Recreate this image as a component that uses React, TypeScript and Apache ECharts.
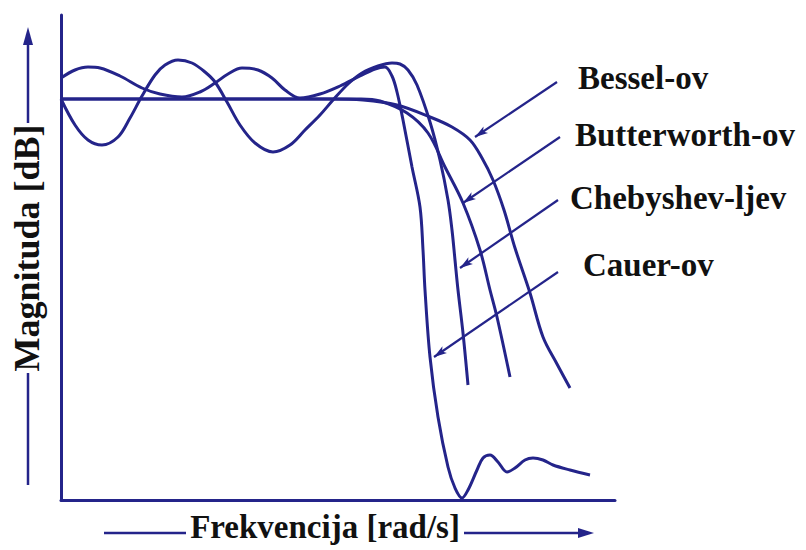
import React, { useEffect, useRef } from "react";
import * as echarts from "echarts";

// Schematic filter responses (x: frequency units 0..554, y: magnitude units 0..485)
const BESSEL: [number, number][] = [
  [0, 401], [269, 401], [302, 400], [336, 395], [369, 383], [391, 373], [409, 360],
  [421, 342], [432, 320], [443, 290], [454, 252], [469, 207], [482, 163], [496, 136],
  [509, 112],
];
const BUTTERWORTH: [number, number][] = [
  [0, 401], [300, 401], [319, 399], [346, 387], [367, 367], [384, 333], [402, 297],
  [419, 250], [429, 210], [436, 183], [449, 123],
];
const CHEBYSHEV: [number, number][] = [
  [0, 401], [14, 375], [27, 360], [41, 355], [57, 363], [69, 382], [81, 404], [94, 425],
  [104, 435], [117, 440], [131, 437], [144, 428], [154, 418], [166, 398], [179, 375],
  [194, 357], [212, 348], [229, 355], [244, 370], [259, 385], [272, 400], [287, 416],
  [301, 427], [317, 434], [331, 437], [339, 436], [347, 430], [356, 415], [369, 378],
  [379, 340], [387, 300], [391, 270], [394, 240], [397, 210], [402, 167], [407, 115],
];
const CAUER: [number, number][] = [
  [0, 422], [14, 430], [27, 433], [39, 432], [59, 424], [81, 412], [99, 406], [121, 403],
  [139, 408], [154, 417], [167, 426], [181, 432], [197, 430], [211, 422], [224, 410],
  [239, 402], [259, 406], [279, 414], [299, 424], [314, 431], [324, 433], [331, 424],
  [336, 408], [342, 380], [351, 333], [359, 293], [362, 250], [364, 210], [369, 143],
  [377, 83], [387, 33], [394, 12], [401, 2], [407, 10], [416, 30], [422, 42], [429, 45],
  [437, 38], [446, 28], [454, 32], [464, 40], [472, 42], [482, 40], [492, 35], [509, 30],
  [529, 25],
];

const NAMES = ["Bessel-ov", "Butterworth-ov", "Chebyshev-ljev", "Cauer-ov"];
// leader arrows: [start, end] for each name
const ARROWS: [number, number][][] = [
  [[496, 418], [414, 363]],
  [[499, 363], [402, 297]],
  [[497, 300], [399, 232]],
  [[497, 228], [373, 143]],
];
const LABEL_POS: [number, number][] = [[578, 78], [575, 135], [570, 198], [583, 265]];

const X_MAX = 554;
const Y_MAX = 485;
const X_TITLE = "Frekvencija [rad/s]";
const Y_TITLE = "Magnituda [dB]";

const INK = "#24248a";
const FONT = "'Liberation Serif', 'Times New Roman', serif";

export default function App() {
  const ref = useRef<HTMLDivElement>(null);
  useEffect(() => {
    const chart = echarts.init(ref.current!, null, { renderer: "svg" });
    const curves = [BESSEL, BUTTERWORTH, CHEBYSHEV, CAUER];
    const series: any[] = curves.map((d, i) => ({
      type: "line",
      name: NAMES[i],
      data: d,
      showSymbol: false,
      smooth: 0.35,
      lineStyle: { color: INK, width: 3 },
      itemStyle: { color: INK },
      z: 3,
    }));
    series.push({
      type: "line",
      data: [],
      markLine: {
        silent: true,
        symbol: ["none", "arrow"],
        symbolSize: [6, 13],
        label: { show: false },
        lineStyle: { color: INK, width: 2.2, type: "solid" },
        data: ARROWS.map((a) => [{ coord: a[0] }, { coord: a[1] }]),
      },
    });

    const graphic: any[] = [
      // y-axis title arrows
      { type: "line", shape: { x1: 28, y1: 123, x2: 28, y2: 42 }, style: { stroke: INK, lineWidth: 2.5 } },
      { type: "polygon", shape: { points: [[28, 27], [23, 45], [33, 45]] }, style: { fill: INK } },
      { type: "line", shape: { x1: 28, y1: 373, x2: 28, y2: 485 }, style: { stroke: INK, lineWidth: 2.5 } },
      // x-axis title arrows
      { type: "line", shape: { x1: 104, y1: 533, x2: 186, y2: 533 }, style: { stroke: INK, lineWidth: 2.5 } },
      { type: "line", shape: { x1: 464, y1: 533, x2: 582, y2: 533 }, style: { stroke: INK, lineWidth: 2.5 } },
      { type: "polygon", shape: { points: [[594, 533], [578, 528], [578, 538]] }, style: { fill: INK } },
      {
        type: "text",
        x: 325,
        y: 527,
        style: {
          text: X_TITLE,
          font: `bold 33px ${FONT}`,
          fill: "#111",
          align: "center",
          verticalAlign: "middle",
        },
      },
      {
        type: "text",
        x: 27,
        y: 248,
        rotation: Math.PI / 2,
        style: {
          text: Y_TITLE,
          font: `bold 36px ${FONT}`,
          fill: "#111",
          align: "center",
          verticalAlign: "middle",
        },
      },
      ...NAMES.map((n, i) => ({
        type: "text",
        x: LABEL_POS[i][0],
        y: LABEL_POS[i][1],
        style: {
          text: n,
          font: `bold 33px ${FONT}`,
          fill: "#111",
          align: "left",
          verticalAlign: "middle",
        },
      })),
    ];

    chart.setOption({
      animation: false,
      backgroundColor: "#ffffff",
      grid: { left: 61, top: 15, width: 554, height: 485 },
      xAxis: {
        type: "value",
        min: 0,
        max: X_MAX,
        axisLine: { show: true, lineStyle: { color: INK, width: 3 } },
        axisTick: { show: false },
        axisLabel: { show: false },
        splitLine: { show: false },
      },
      yAxis: {
        type: "value",
        min: 0,
        max: Y_MAX,
        axisLine: { show: true, lineStyle: { color: INK, width: 3 } },
        axisTick: { show: false },
        axisLabel: { show: false },
        splitLine: { show: false },
      },
      series,
      graphic,
    });
    return () => chart.dispose();
  }, []);
  return (
    <div
      ref={ref}
      style={{ position: "fixed", left: 0, top: 0, width: 806, height: 550 }}
    />
  );
}
